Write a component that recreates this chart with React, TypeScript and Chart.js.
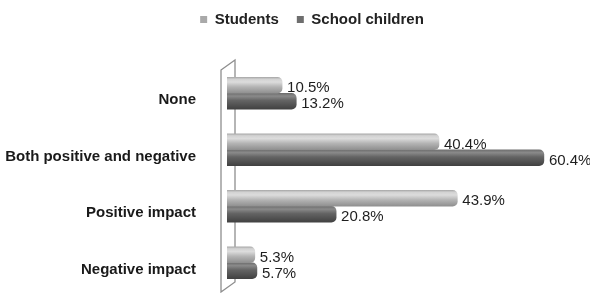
import React, { useEffect, useRef } from 'react';
import { Chart, registerables } from 'chart.js';

Chart.register(...registerables);

const categories = ['None', 'Both positive and negative', 'Positive impact', 'Negative impact'];
const seriesNames = ['Students', 'School children'];
const students = [10.5, 40.4, 43.9, 5.3];
const schoolChildren = [13.2, 60.4, 20.8, 5.7];
const xMax = 69;

const FONT = "'Liberation Sans', Arial, Helvetica, sans-serif";
const BAR = 16;

const lightStops: [number, string][] = [
  [0, '#a9a9a9'],
  [0.12, '#d2d2d2'],
  [0.3, '#dcdcdc'],
  [0.6, '#b4b4b4'],
  [1, '#8f8f8f'],
];
const darkStops: [number, string][] = [
  [0, '#6e6e6e'],
  [0.18, '#8a8a8a'],
  [0.45, '#646464'],
  [1, '#414141'],
];

function barFill(stops: [number, string][], solid: string, which: number) {
  return (c: any) => {
    if (c.type !== 'data') return solid;
    const chart = c.chart;
    const ys = chart.scales && chart.scales.y;
    if (!ys || !chart.chartArea) return solid;
    const center = ys.getPixelForValue(c.dataIndex);
    const top = which === 0 ? center - BAR : center;
    const g = chart.ctx.createLinearGradient(0, top, 0, top + BAR);
    stops.forEach(([o, col]) => g.addColorStop(o, col));
    return g;
  };
}

const wallPlugin = {
  id: 'wall',
  beforeDatasetsDraw(chart: any) {
    const { ctx, chartArea } = chart;
    const x0 = chart.scales.x.getPixelForValue(0);
    const l = x0 - 6;
    const r = x0 + 8;
    const t = chartArea.top;
    const b = chartArea.bottom;
    ctx.save();
    ctx.strokeStyle = '#8e8e8e';
    ctx.lineWidth = 1.3;
    ctx.beginPath();
    ctx.moveTo(l, t + 5);
    ctx.lineTo(r, t - 5);
    ctx.lineTo(r, b - 9);
    ctx.lineTo(l, b + 1);
    ctx.closePath();
    ctx.stroke();
    ctx.restore();
  },
};

const valueLabels = {
  id: 'valueLabels',
  afterDatasetsDraw(chart: any) {
    const { ctx } = chart;
    ctx.save();
    ctx.font = `15px ${FONT}`;
    ctx.fillStyle = '#1e1e1e';
    ctx.textAlign = 'left';
    ctx.textBaseline = 'middle';
    chart.data.datasets.forEach((ds: any, di: number) => {
      const meta = chart.getDatasetMeta(di);
      meta.data.forEach((el: any, i: number) => {
        const v = ds.data[i];
        ctx.fillText(`${v.toFixed(1)}%`, el.x + 5, el.y + 3);
      });
    });
    ctx.restore();
  },
};

const legendShift = {
  id: 'legendShift',
  afterLayout(chart: any) {
    const lg = chart.legend;
    if (!lg) return;
    const dx = 312 - (lg.left + lg.right) / 2;
    lg.left += dx;
    lg.right += dx;
    lg.top -= 28;
    lg.bottom -= 28;
  },
};

export default function App() {
  const ref = useRef<HTMLCanvasElement | null>(null);

  useEffect(() => {
    document.body.style.margin = '0';
    const canvas = ref.current;
    if (!canvas) return;
    const chart = new Chart(canvas, {
      type: 'bar',
      data: {
        labels: categories,
        datasets: [
          {
            label: seriesNames[0],
            data: students,
            backgroundColor: barFill(lightStops, '#a8a8a8', 0),
            barThickness: BAR,
            borderRadius: 5,
            borderSkipped: 'start',
          },
          {
            label: seriesNames[1],
            data: schoolChildren,
            backgroundColor: barFill(darkStops, '#606060', 1),
            barThickness: BAR,
            borderRadius: 5,
            borderSkipped: 'start',
          },
        ],
      },
      options: {
        indexAxis: 'y',
        responsive: false,
        animation: false,
        events: [],
        layout: { padding: { top: 22, right: 1, bottom: 2, left: 0 } },
        plugins: {
          legend: {
            position: 'top',
            labels: {
              boxWidth: 7,
              boxHeight: 7,
              padding: 18,
              color: '#222222',
              font: { family: FONT, size: 15, weight: 'bold' },
            },
          },
          tooltip: { enabled: false },
        },
        scales: {
          x: { display: false, min: 0, max: xMax },
          y: {
            grid: { display: false },
            border: { display: false },
            ticks: {
              color: '#1a1a1a',
              padding: 23,
              labelOffset: 7,
              font: { family: FONT, size: 15, weight: 'bold' },
            },
            afterFit: (s: any) => {
              s.width = 227;
              s.paddingTop = 0;
              s.paddingBottom = 0;
            },
          },
        },
      },
      plugins: [wallPlugin, valueLabels, legendShift],
    } as any);
    return () => chart.destroy();
  }, []);

  return (
    <div style={{ width: 590, height: 293 }}>
      <canvas ref={ref} width={590} height={293} />
    </div>
  );
}
